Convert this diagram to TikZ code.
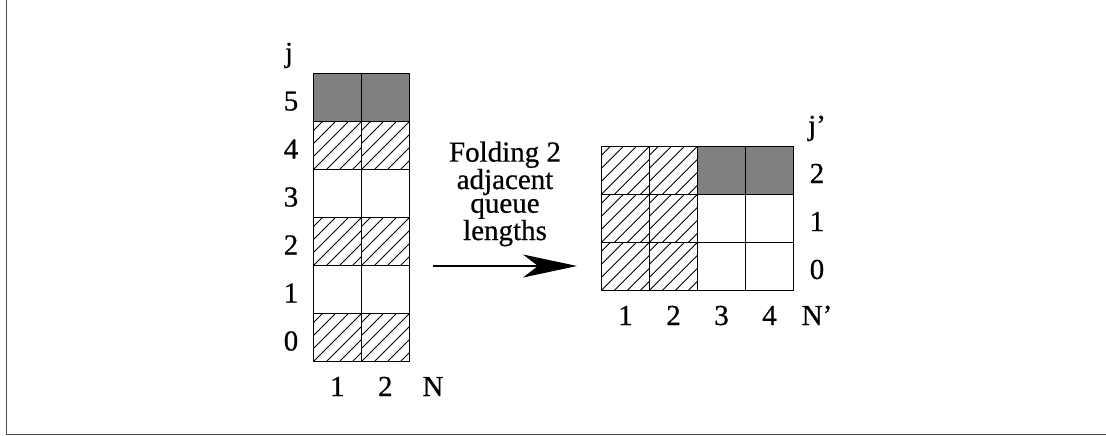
\documentclass[tikz,border=0pt]{standalone}
\usepackage{fontspec}
\setmainfont{Liberation Serif}[FakeBold=0.6]
\usetikzlibrary{arrows.meta}
\definecolor{cellgray}{RGB}{128,128,128}
\begin{document}
\begin{tikzpicture}[x=1pt,y=-1pt,
  cell/.style={draw, line width=0.8pt, minimum width=48pt, minimum height=48pt,
    inner sep=0pt, outer sep=0pt},
  shaded/.style={cell, fill=cellgray},
  hatched/.style={cell, path picture={
      \foreach \k in {-5,...,5}
        \draw[line width=0.9pt]
          ([xshift=\k*13pt]path picture bounding box.south west) -- ++(60pt,60pt);}},
  lab/.style={font=\fontsize{29}{29}\selectfont, anchor=base, inner sep=0pt},
  fold/.style={font=\fontsize{29}{23.7}\selectfont, align=center, anchor=base, inner sep=0pt},
  frameline/.style={line width=1.6pt, black!70}
]
\useasboundingbox (0,0) rectangle (1106,436);

% partial frame (left and bottom edges)
\draw[frameline] (6.5,0) -- (6.5,434.5) -- (1106,434.5);

% left grid: queue lengths j = 0..5, servers 1..2
\foreach \j/\kind in {0/hatched,1/cell,2/hatched,3/cell,4/hatched,5/shaded}{
  \foreach \c in {1,2}{
    \node[\kind] (L\c\j) at ({289.3+48*\c}, {337.7-48*\j}) {};
  }
  \node[lab] (lj\j) at (291, {350.5-48*\j}) {\j};
}
\node[lab] (ljtitle) at (289, 62) {j};
\node[lab] (ln1) at (337.3, 396) {1};
\node[lab] (ln2) at (385.3, 396) {2};
\node[lab] (lnN) at (433, 396) {N};

% right grid: folded queue lengths j' = 0..2, servers 1..4
\foreach \j in {0,1,2}{
  \foreach \c in {1,2}{
    \node[hatched] (R\c\j) at ({577.5+48*\c}, {266.2-48*\j}) {};
  }
  \node[lab] (rj\j) at (817, {279-48*\j}) {\j};
}
\foreach \c in {3,4}{
  \foreach \j in {0,1}{
    \node[cell] (R\c\j) at ({577.5+48*\c}, {266.2-48*\j}) {};
  }
  \node[shaded] (R\c2) at ({577.5+48*\c}, 170.2) {};
}
\node[lab] (rjtitle) at (817, 135) {j'};
\foreach \c in {1,...,4}{
  \node[lab] (rn\c) at ({577.5+48*\c}, 325) {\c};
}
\node[lab] (rnN) at (817, 325) {N'};

% folding arrow with its caption (base anchor sits on the last line)
\node[fold] (foldtext) at (505, 240) {Folding 2\\adjacent\\queue\\lengths};
\coordinate (arrowstart) at (433, 266);
\coordinate (arrowend) at (577, 266);
\draw[line width=1.6pt, -{Stealth[length=54pt, width=23pt, inset=15pt]}]
  (arrowstart) -- (arrowend);
\end{tikzpicture}
\end{document}
